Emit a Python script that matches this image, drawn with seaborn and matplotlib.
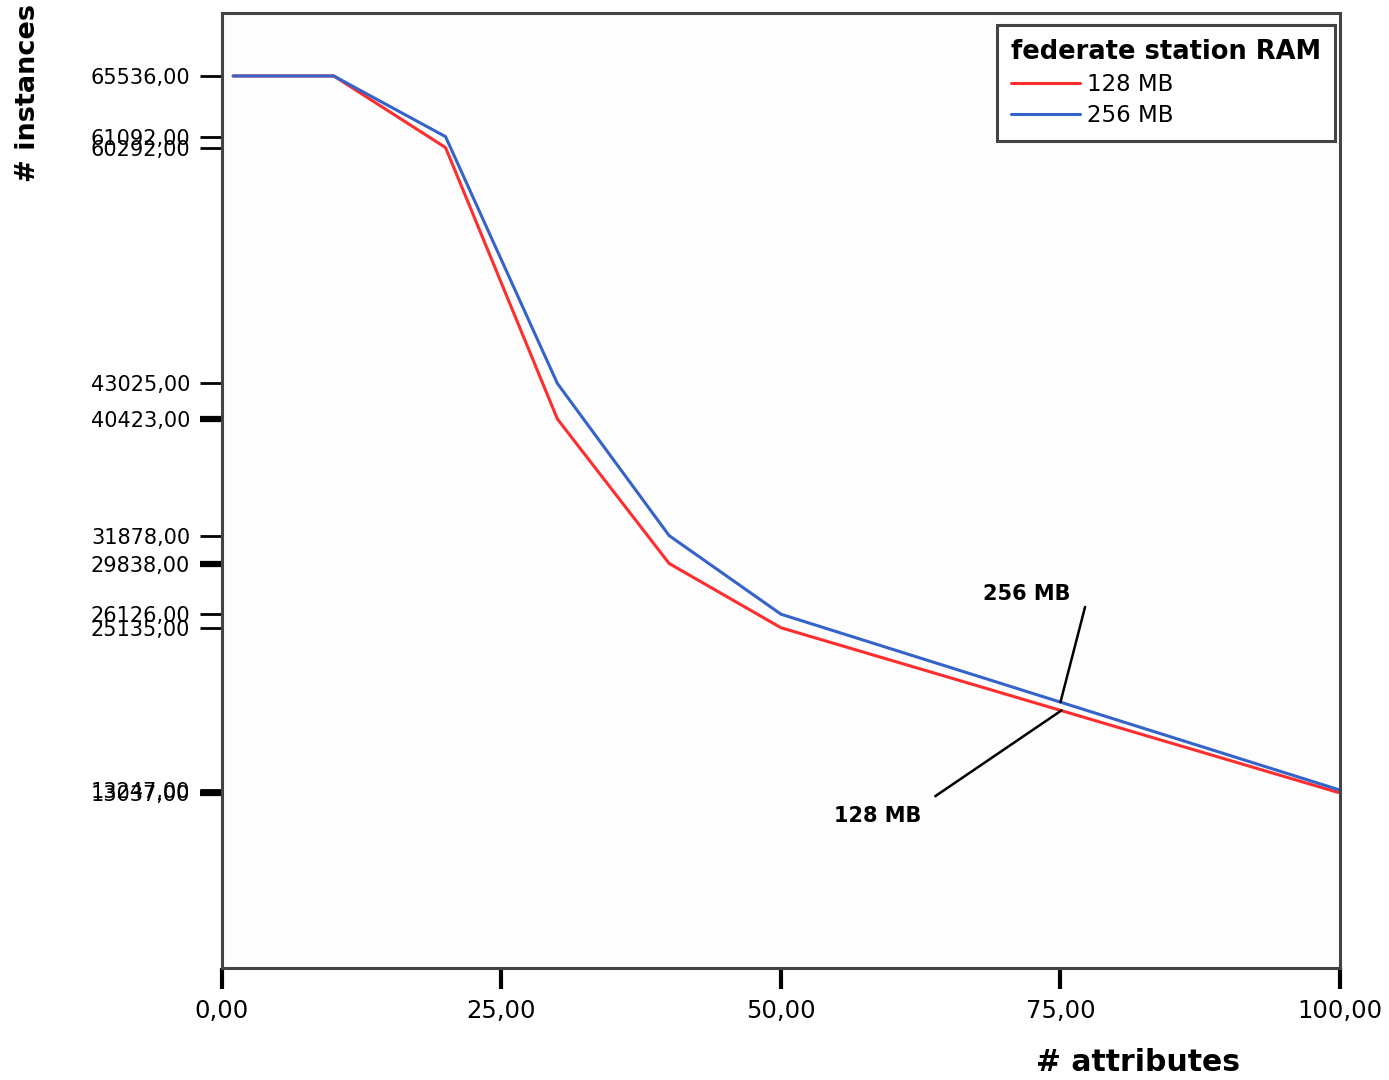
import seaborn as sns
import matplotlib.pyplot as plt
import pandas as pd

# data
attributes = [1, 10, 20, 30, 40, 50, 100]
ram_128 = [65536, 65536, 60292, 40423, 29838, 25135, 13037]
ram_256 = [65536, 65536, 61092, 43025, 31878, 26126, 13247]
series_names = ["128 MB", "256 MB"]
ytick_values = sorted(set(ram_128 + ram_256))
xtick_values = [0, 25, 50, 75, 100]

df = pd.concat([
    pd.DataFrame({"attributes": attributes, "instances": ram_128, "ram": series_names[0]}),
    pd.DataFrame({"attributes": attributes, "instances": ram_256, "ram": series_names[1]}),
])

sns.set_theme(style="white")
plt.rcParams['font.family'] = ['DejaVu Sans']
plt.rcParams['text.color'] = 'black'
plt.rcParams['xtick.labelcolor'] = 'black'
plt.rcParams['ytick.labelcolor'] = 'black'

fig = plt.figure(figsize=(13.89, 10.8), dpi=100)
ax = fig.add_axes([0.1598, 0.1037, 0.8049, 0.8843])
ax.set_facecolor("#fdfdfd")

sns.lineplot(data=df, x="attributes", y="instances", hue="ram",
             palette={"128 MB": "#ff2e2e", "256 MB": "#3563c9"},
             linewidth=2.2, ax=ax)

ax.set_xlim(0, 100)
ax.set_ylim(220, 70150)

ax.set_xticks(xtick_values)
ax.set_xticklabels([f"{v:.2f}".replace(".", ",") for v in xtick_values], fontsize=17.5)
ax.set_yticks(ytick_values)
ax.set_yticklabels([f"{v:.2f}".replace(".", ",") for v in ytick_values], fontsize=15)

ax.tick_params(axis="y", which="major", direction="out", length=16, width=2,
               color="black", left=True, pad=7)
ax.tick_params(axis="x", which="major", direction="out", length=15, width=3,
               color="black", bottom=True, pad=7)
# thicker ticks for the 128 MB values
for val, tick in zip(ytick_values, ax.yaxis.get_major_ticks()):
    if val in (40423, 29838, 13037):
        tick.tick1line.set_markeredgewidth(4.5)

for sp in ax.spines.values():
    sp.set_color("#444444")
    sp.set_linewidth(2.2)

ax.set_xlabel("")
ax.set_ylabel("")
fig.text(0.819, 0.016, "# attributes", fontsize=21.5, fontweight="bold",
         ha="center", va="center")
fig.text(0.02, 0.996, "# instances", fontsize=19.5, fontweight="bold",
         rotation=90, ha="center", va="top")

# callouts at x = 75
y128 = ram_128[5] + (ram_128[6] - ram_128[5]) * 0.5
y256 = ram_256[5] + (ram_256[6] - ram_256[5]) * 0.5
ax.annotate("", xy=(75, y256), xytext=(77.2, 26655),
            arrowprops=dict(arrowstyle="-", color="black", lw=1.8,
                            shrinkA=0, shrinkB=0))
ax.text(75.9, 26900, "256 MB", fontsize=15, fontweight="bold",
        ha="right", va="bottom")
ax.annotate("", xy=(75.1, y128), xytext=(63.8, 12800),
            arrowprops=dict(arrowstyle="-", color="black", lw=1.8,
                            shrinkA=0, shrinkB=0))
ax.text(62.6, 12100, "128 MB", fontsize=15, fontweight="bold",
        ha="right", va="top")

leg = ax.legend(title="federate station RAM", loc="upper right",
                bbox_to_anchor=(0.9955, 0.9874), borderaxespad=0,
                fontsize=16.5, title_fontsize=18.5, handlelength=3.0,
                handletextpad=0.3, labelspacing=0.35, fancybox=False,
                frameon=True, borderpad=0.6)
leg.get_title().set_fontweight("bold")
leg._legend_box.align = "left"
leg.get_frame().set_edgecolor("#444444")
leg.get_frame().set_linewidth(2.2)
leg.get_frame().set_facecolor("white")
leg.get_frame().set_alpha(1)

fig.savefig("out.png", dpi=100, facecolor="white")
